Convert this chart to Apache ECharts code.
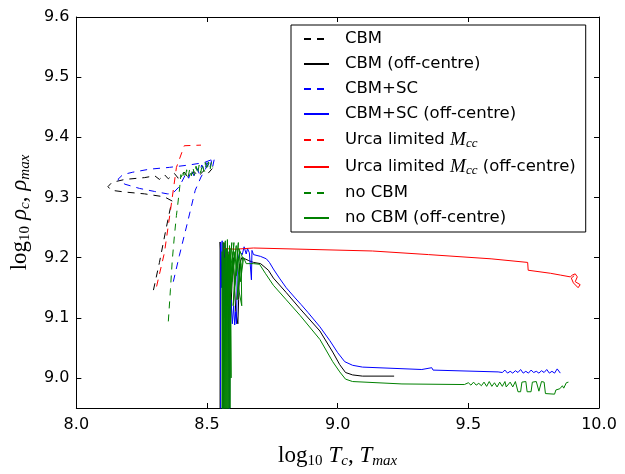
<!DOCTYPE html>
<html>
<head>
<meta charset="utf-8">
<script src="https://cdn.jsdelivr.net/npm/echarts@6/dist/echarts.min.js"></script>
<style>
  html, body { margin: 0; padding: 0; background: #ffffff; }
  #chart { width: 625px; height: 474px; }
</style>
</head>
<body>
<div id="chart"></div>
<script>
// Axis ticks
const xTicks = [8.0, 8.5, 9.0, 9.5, 10.0];
const yTicks = [9.0, 9.1, 9.2, 9.3, 9.4, 9.5, 9.6];

// Legend / series names
const names = [
  'CBM', 'CBM (off-centre)',
  'CBM+SC', 'CBM+SC (off-centre)',
  'Urca limited M_cc', 'Urca limited M_cc (off-centre)',
  'no CBM', 'no CBM (off-centre)'
];

// Central tracks: [log10 Tc, log10 rho_c]
const cbmCentre = [
  [8.295, 9.146], [8.318, 9.192], [8.341, 9.243], [8.360, 9.283], [8.367, 9.294],
  [8.337, 9.301], [8.261, 9.306], [8.186, 9.309], [8.133, 9.312], [8.121, 9.318],
  [8.136, 9.325], [8.186, 9.330], [8.261, 9.333], [8.300, 9.336], [8.318, 9.330],
  [8.337, 9.338], [8.352, 9.331], [8.375, 9.340], [8.390, 9.332], [8.413, 9.342],
  [8.428, 9.333], [8.451, 9.343], [8.466, 9.335], [8.489, 9.345], [8.500, 9.338],
  [8.520, 9.348]
];
const scCentre = [
  [8.371, 9.160], [8.394, 9.203], [8.424, 9.256], [8.455, 9.312], [8.477, 9.334],
  [8.500, 9.352], [8.519, 9.363], [8.489, 9.358], [8.432, 9.354], [8.356, 9.350],
  [8.280, 9.347], [8.216, 9.342], [8.178, 9.338], [8.159, 9.330], [8.186, 9.322],
  [8.242, 9.315], [8.299, 9.310], [8.348, 9.306], [8.367, 9.306], [8.394, 9.318],
  [8.420, 9.340], [8.430, 9.332], [8.440, 9.346], [8.450, 9.336], [8.460, 9.350],
  [8.470, 9.340], [8.480, 9.354], [8.490, 9.344], [8.500, 9.358], [8.510, 9.348],
  [8.518, 9.362], [8.522, 9.352], [8.528, 9.364]
];
const urcaCentre = [
  [8.307, 9.152], [8.337, 9.208], [8.360, 9.278], [8.383, 9.350], [8.413, 9.386],
  [8.477, 9.387]
];
const noCbmCentre = [
  [8.352, 9.094], [8.360, 9.147], [8.367, 9.195], [8.375, 9.235], [8.383, 9.270],
  [8.394, 9.310], [8.400, 9.338], [8.405, 9.330], [8.410, 9.342], [8.416, 9.332],
  [8.422, 9.346], [8.428, 9.334], [8.434, 9.348], [8.440, 9.336], [8.446, 9.350],
  [8.452, 9.337], [8.458, 9.352], [8.464, 9.339], [8.470, 9.354], [8.476, 9.341],
  [8.482, 9.356], [8.488, 9.343], [8.494, 9.358], [8.500, 9.345], [8.506, 9.359],
  [8.512, 9.347], [8.518, 9.360], [8.522, 9.350]
];

// Off-centre tracks: [log10 Tmax, log10 rho_max]
const cbmOff = [
  [8.550, 8.900], [8.550, 9.226], [8.556, 9.229], [8.560, 9.150], [8.565, 9.225],
  [8.572, 9.120], [8.580, 9.210], [8.590, 9.100], [8.600, 9.200], [8.610, 9.110],
  [8.618, 9.090], [8.621, 9.130], [8.625, 9.190], [8.633, 9.200], [8.645, 9.198],
  [8.660, 9.195], [8.678, 9.192], [8.705, 9.190], [8.735, 9.179], [8.754, 9.166],
  [8.803, 9.142], [8.856, 9.115], [8.932, 9.078], [8.981, 9.043], [9.008, 9.022],
  [9.030, 9.009], [9.057, 9.005], [9.095, 9.003], [9.216, 9.003]
];
const scOff = [
  [8.552, 8.900], [8.552, 9.225], [8.556, 9.150], [8.558, 9.228], [8.561, 8.900],
  [8.563, 9.210], [8.566, 9.100], [8.570, 9.220], [8.575, 9.120], [8.580, 9.200],
  [8.586, 8.900], [8.588, 9.120], [8.590, 9.090], [8.592, 9.130], [8.597, 9.090],
  [8.602, 9.120], [8.606, 9.088], [8.610, 9.110], [8.613, 9.090], [8.616, 9.190],
  [8.625, 9.210], [8.635, 9.205], [8.642, 9.218], [8.650, 9.206], [8.655, 9.215],
  [8.662, 9.208], [8.668, 9.210], [8.670, 9.163], [8.672, 9.212], [8.678, 9.205],
  [8.705, 9.202], [8.727, 9.198], [8.739, 9.192], [8.754, 9.181], [8.777, 9.166],
  [8.803, 9.150], [8.837, 9.133], [8.860, 9.122], [8.886, 9.109], [8.932, 9.085],
  [8.970, 9.062], [9.000, 9.042], [9.027, 9.027], [9.057, 9.021], [9.095, 9.018],
  [9.322, 9.014], [9.360, 9.017], [9.365, 9.013], [9.614, 9.010], [9.620, 9.012],
  [9.630, 9.009], [9.640, 9.013], [9.650, 9.008], [9.660, 9.011], [9.670, 9.008],
  [9.680, 9.012], [9.690, 9.009], [9.700, 9.014], [9.710, 9.008], [9.720, 9.011],
  [9.730, 9.008], [9.740, 9.013], [9.750, 9.009], [9.760, 9.011], [9.770, 9.008],
  [9.780, 9.012], [9.790, 9.009], [9.800, 9.014], [9.810, 9.008], [9.820, 9.011],
  [9.830, 9.008], [9.840, 9.015], [9.852, 9.008]
];
const urcaOff = [
  [8.565, 9.215], [8.610, 9.214], [8.678, 9.216], [9.133, 9.211], [9.348, 9.205],
  [9.587, 9.198], [9.727, 9.192], [9.729, 9.179], [9.814, 9.174], [9.852, 9.171],
  [9.890, 9.168], [9.898, 9.171], [9.909, 9.173], [9.917, 9.168], [9.909, 9.160],
  [9.928, 9.155], [9.920, 9.150], [9.902, 9.158], [9.894, 9.166], [9.905, 9.170]
];
const noCbmOff = [
  [8.557, 8.900], [8.558, 9.210], [8.560, 8.900], [8.562, 9.225], [8.564, 8.900],
  [8.566, 9.200], [8.568, 8.900], [8.570, 9.228], [8.572, 8.900], [8.574, 9.215],
  [8.576, 8.900], [8.578, 9.230], [8.580, 8.900], [8.582, 9.205], [8.584, 8.900],
  [8.586, 9.220], [8.588, 8.950], [8.590, 9.200], [8.592, 9.000], [8.588, 9.215],
  [8.580, 9.120], [8.595, 9.225], [8.578, 9.150], [8.600, 9.210], [8.585, 9.140],
  [8.603, 9.225], [8.590, 9.140], [8.607, 9.210], [8.595, 9.160], [8.612, 9.220],
  [8.600, 9.120], [8.617, 9.200], [8.605, 9.150], [8.620, 9.225], [8.612, 9.170],
  [8.625, 9.210], [8.615, 9.130], [8.629, 9.190], [8.620, 9.150], [8.633, 9.120],
  [8.631, 9.180], [8.622, 9.215], [8.636, 9.200], [8.628, 9.160], [8.640, 9.200],
  [8.650, 9.190], [8.665, 9.190], [8.678, 9.190], [8.701, 9.189], [8.723, 9.174],
  [8.754, 9.154], [8.803, 9.130], [8.856, 9.104], [8.932, 9.064], [8.981, 9.027],
  [9.008, 9.010], [9.030, 8.998], [9.057, 8.994], [9.246, 8.990], [9.485, 8.989],
  [9.500, 8.992], [9.510, 8.988], [9.520, 8.993], [9.530, 8.988], [9.540, 8.991],
  [9.550, 8.987], [9.560, 8.993], [9.570, 8.986], [9.580, 8.994], [9.590, 8.986],
  [9.600, 8.992], [9.610, 8.985], [9.620, 8.993], [9.630, 8.986], [9.640, 8.994],
  [9.645, 8.985], [9.660, 8.993], [9.670, 8.985], [9.680, 8.994], [9.690, 8.977],
  [9.700, 8.977], [9.705, 8.993], [9.720, 8.994], [9.725, 8.977], [9.740, 8.977],
  [9.745, 8.993], [9.760, 8.994], [9.770, 8.978], [9.780, 8.994], [9.790, 8.993],
  [9.795, 8.974], [9.830, 8.973], [9.835, 8.980], [9.850, 8.982], [9.860, 8.987],
  [9.865, 8.983], [9.875, 8.992], [9.883, 8.993]
];

const tracks = [cbmCentre, cbmOff, scCentre, scOff, urcaCentre, urcaOff, noCbmCentre, noCbmOff];
const colors = ['#000000', '#000000', '#0000ff', '#0000ff', '#ff0000', '#ff0000', '#008000', '#008000'];
const dashed = [true, false, true, false, true, false, true, false];

const mathFont = 'Liberation Serif';
const sansFont = 'DejaVu Sans';

const series = tracks.map((data, i) => ({
  name: names[i],
  type: 'line',
  data: data,
  showSymbol: false,
  symbol: 'none',
  clip: true,
  silent: true,
  itemStyle: { color: colors[i] },
  lineStyle: { color: colors[i], width: 1, type: dashed[i] ? [7, 6] : 'solid' }
}));

const tickStyle = { show: true, inside: true, length: 5, lineStyle: { color: '#000', width: 1 } };
const lineStyle = { show: true, onZero: false, lineStyle: { color: '#000', width: 1 } };

// Math-style axis titles: upright "log", italic symbols, lowered subscripts
const mathRich = {
  n: { fontFamily: mathFont, fontSize: 23, color: '#000' },
  sp: { fontFamily: mathFont, fontSize: 23, color: '#000', width: 6 },
  i: { fontFamily: mathFont, fontStyle: 'italic', fontSize: 23, color: '#000' },
  s: { fontFamily: mathFont, fontSize: 15, color: '#000', padding: [12, 0, 0, 0] },
  si: { fontFamily: mathFont, fontStyle: 'italic', fontSize: 15, color: '#000', padding: [12, 0, 0, 0] }
};

const chart = echarts.init(document.getElementById('chart'), null, { renderer: 'canvas' });
chart.setOption({
  animation: false,
  backgroundColor: '#ffffff',
  grid: { left: 71, right: 26, top: 17, bottom: 50, containLabel: false },
  xAxis: [
    {
      type: 'value', position: 'bottom', min: 8, max: 10, interval: 0.5,
      axisLine: lineStyle, axisTick: tickStyle, splitLine: { show: false },
      axisLabel: { color: '#000', fontFamily: sansFont, fontSize: 16, margin: 9,
        formatter: v => v.toFixed(1) },
      name: '{n|log}{s|10}{sp| }{i|T}{si|c}{n|, }{i|T}{si|max}',
      nameLocation: 'middle', nameGap: 34,
      nameTextStyle: { rich: mathRich }
    },
    {
      type: 'value', position: 'top', min: 8, max: 10, interval: 0.5,
      axisLine: lineStyle, axisTick: tickStyle, splitLine: { show: false },
      axisLabel: { show: false }
    }
  ],
  yAxis: [
    {
      type: 'value', position: 'left', min: 8.95, max: 9.6,
      axisLine: lineStyle,
      axisTick: Object.assign({ customValues: yTicks }, tickStyle),
      splitLine: { show: false },
      axisLabel: { customValues: yTicks, color: '#000', fontFamily: sansFont, fontSize: 16, margin: 7,
        formatter: v => v.toFixed(1) },
      name: '{n|log}{s|10}{sp| }{i|ρ}{si|c}{n|, }{i|ρ}{si|max}',
      nameLocation: 'middle', nameRotate: 90, nameGap: 42,
      nameTextStyle: { rich: mathRich }
    },
    {
      type: 'value', position: 'right', min: 8.95, max: 9.6,
      axisLine: lineStyle,
      axisTick: Object.assign({ customValues: yTicks }, tickStyle),
      splitLine: { show: false },
      axisLabel: { show: false }
    }
  ],
  legend: {
    data: names,
    orient: 'vertical',
    left: 291, top: 25,
    padding: [5, 10, 5, 12],
    itemWidth: 25, itemHeight: 18, itemGap: 7,
    selectedMode: false,
    backgroundColor: '#ffffff',
    borderColor: '#000000', borderWidth: 1, borderRadius: 0,
    itemStyle: { opacity: 0 },
    formatter: name => name.replace('M_cc', '{m|M}{mc|cc}'),
    textStyle: {
      color: '#000', fontFamily: sansFont, fontSize: 16.5, lineHeight: 18,
      padding: [0, 0, 0, 11],
      rich: {
        m: { fontFamily: mathFont, fontStyle: 'italic', fontSize: 19, color: '#000', lineHeight: 18 },
        mc: { fontFamily: mathFont, fontStyle: 'italic', fontSize: 13, color: '#000', lineHeight: 18, padding: [7, 0, 0, 0] }
      }
    }
  },
  series: series
});
</script>
</body>
</html>
